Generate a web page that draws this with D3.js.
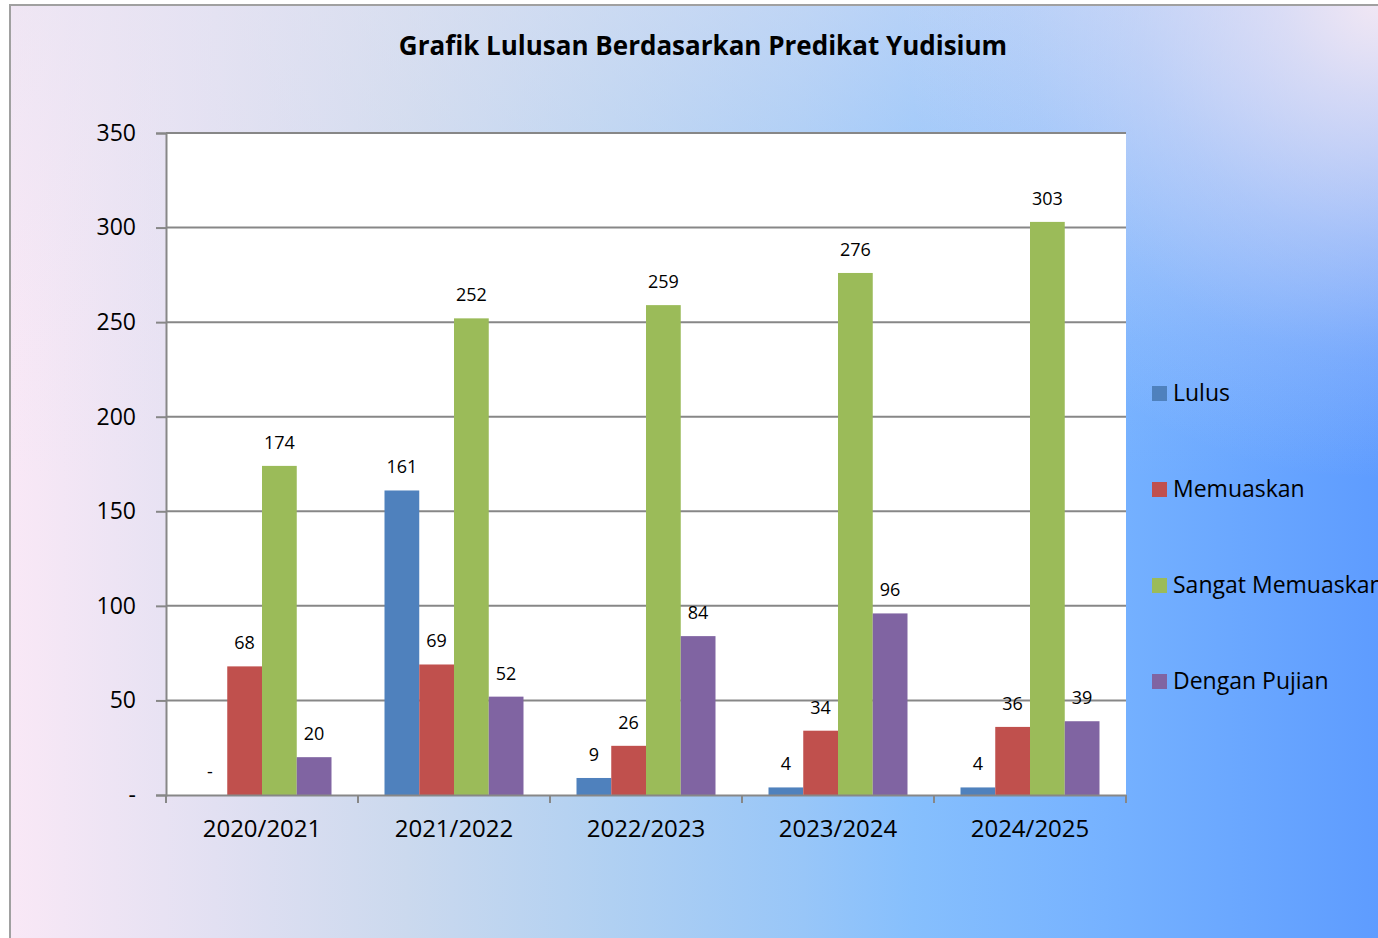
<!DOCTYPE html>
<html lang="id">

<head>
	<meta charset="utf-8">
	<title> Grafik Lulusan </title>
	<script src="https://d3js.org/d3.v7.min.js"></script>
	<style type="text/css">
		body{
			margin: 0;
			overflow: hidden;
		}
		text{
			font-family: "Open Sans", sans-serif;
			fill: #000;
		}
		.axis text{
			font-size: 23px;
		}
	</style>
</head>

<body>
	<script type="text/javascript">

	// data
	var years = ["2020/2021", "2021/2022", "2022/2023", "2023/2024", "2024/2025"]
	var seriesNames = ["Lulus", "Memuaskan", "Sangat Memuaskan", "Dengan Pujian"]
	var lulus = [0, 161, 9, 4, 4]
	var memuaskan = [68, 69, 26, 34, 36]
	var sangatMemuaskan = [174, 252, 259, 276, 303]
	var denganPujian = [20, 52, 84, 96, 39]
	var yTicks = [0, 50, 100, 150, 200, 250, 300, 350]
	var colors = ["#4f81bd", "#c0504d", "#9bbb59", "#8064a2"]

	var seriesValues = [lulus, memuaskan, sangatMemuaskan, denganPujian]

	// window size
	var w = 1378
	var h = 938
	var plot = {left: 166, right: 1126, top: 133, bottom: 795}

	var svg = d3.select("body")
				.append("svg")
				.attr("width", w)
				.attr("height", h)

	// background: horizontal pink -> blue, lighter toward the top, pink glow top-right
	var defs = svg.append("defs")
	var base = defs.append("linearGradient")
		.attr("id", "bg")
		.attr("gradientUnits", "userSpaceOnUse")
		.attr("x1", 10).attr("y1", 0).attr("x2", 1378).attr("y2", 0)
	var baseStops = [[0, "#f9e8f6"], [0.15, "#e2e0f2"], [0.29, "#cbd9ee"], [0.44, "#b0d0f2"],
		[0.58, "#98c6f8"], [0.66, "#86bffd"], [0.8, "#76b2ff"], [1, "#5e9cff"]]
	baseStops.forEach(function(s){
		base.append("stop").attr("offset", s[0]).attr("stop-color", s[1])
	})

	var topFade = defs.append("linearGradient")
		.attr("id", "topfade")
		.attr("gradientUnits", "userSpaceOnUse")
		.attr("x1", 0).attr("y1", 5).attr("x2", 0).attr("y2", 480)
	var topStops = [[0, 0.5], [0.35, 0.28], [0.7, 0.08], [1, 0]]
	topStops.forEach(function(s){
		topFade.append("stop").attr("offset", s[0])
			.attr("stop-color", "#e6e4f2").attr("stop-opacity", s[1])
	})

	var glow = defs.append("radialGradient")
		.attr("id", "glow")
		.attr("gradientUnits", "userSpaceOnUse")
		.attr("cx", 1378).attr("cy", 0).attr("r", 480)
	var glowStops = [[0, 1], [0.2, 0.7], [0.5, 0.35], [0.75, 0.12], [1, 0]]
	glowStops.forEach(function(s){
		glow.append("stop").attr("offset", s[0])
			.attr("stop-color", "#f1e7f4").attr("stop-opacity", s[1])
	})

	svg.append("rect")
		.attr("x", 0).attr("y", 0)
		.attr("width", w).attr("height", h)
		.attr("fill", "#fff")

	;["bg", "topfade", "glow"].forEach(function(id){
		svg.append("rect")
			.attr("x", 10).attr("y", 5)
			.attr("width", w).attr("height", h)
			.attr("fill", "url(#" + id + ")")
	})
	svg.append("rect")
		.attr("x", 10).attr("y", 5)
		.attr("width", w).attr("height", h)
		.attr("fill", "none")
		.attr("stroke", "#a0a0a0")
		.attr("stroke-width", 2)

	// plot area
	svg.append("rect")
		.attr("x", plot.left).attr("y", plot.top)
		.attr("width", plot.right - plot.left)
		.attr("height", plot.bottom - plot.top)
		.attr("fill", "#fff")

	// scales
	var xScale = d3.scaleBand().domain(years).range([plot.left, plot.right])
	var xInner = d3.scaleBand().domain(seriesNames)
		.range([26.5, xScale.bandwidth() - 26.5])
	var yScale = d3.scaleLinear().domain([0, 350]).range([plot.bottom, plot.top])

	// gridlines
	svg.append("g")
		.selectAll("line")
		.data(yTicks.slice(1))
		.enter()
		.append("line")
		.attr("x1", plot.left).attr("x2", plot.right)
		.attr("y1", d => yScale(d)).attr("y2", d => yScale(d))
		.attr("stroke", "#878787")
		.attr("stroke-width", 2)

	// y axis
	var yAxis = d3.axisLeft(yScale)
		.tickValues(yTicks)
		.tickSize(10)
		.tickPadding(20)
		.tickFormat(d => d === 0 ? "-" : d)
	var yG = svg.append("g")
		.attr("class", "axis")
		.attr("transform", "translate(" + plot.left + ",0)")
		.call(yAxis)
	yG.select(".domain").attr("stroke", "#878787").attr("stroke-width", 2)
	yG.selectAll(".tick line").attr("stroke", "#878787").attr("stroke-width", 2)

	// bars
	var groups = svg.append("g")
		.selectAll("g")
		.data(years)
		.enter()
		.append("g")
		.attr("transform", d => "translate(" + xScale(d) + ",0)")

	groups.selectAll("rect")
		.data((d, i) => seriesNames.map((s, j) => ({s: s, j: j, v: seriesValues[j][i]})))
		.enter()
		.append("rect")
		.attr("x", d => xInner(d.s))
		.attr("width", xInner.bandwidth())
		.attr("y", d => yScale(d.v))
		.attr("height", d => plot.bottom - yScale(d.v))
		.attr("fill", d => colors[d.j])

	// value labels
	groups.selectAll("text")
		.data((d, i) => seriesNames.map((s, j) => ({s: s, j: j, v: seriesValues[j][i]})))
		.enter()
		.append("text")
		.attr("x", d => xInner(d.s) + xInner.bandwidth() / 2)
		.attr("y", d => yScale(d.v) - 17)
		.attr("text-anchor", "middle")
		.style("font-size", "18px")
		.text(d => d.v === 0 ? "-" : d.v)

	// x axis
	var xAxis = d3.axisBottom(xScale).tickSize(0).tickPadding(25)
	var xG = svg.append("g")
		.attr("class", "axis")
		.attr("transform", "translate(0," + plot.bottom + ")")
		.call(xAxis)
	xG.selectAll(".tick text").style("font-size", "24px")
	xG.select(".domain").attr("stroke", "#878787").attr("stroke-width", 2)
	xG.selectAll(".bound")
		.data(d3.range(years.length + 1))
		.enter()
		.append("line")
		.attr("x1", i => plot.left + i * xScale.step())
		.attr("x2", i => plot.left + i * xScale.step())
		.attr("y1", 0).attr("y2", 8)
		.attr("stroke", "#878787")
		.attr("stroke-width", 2)

	// title
	svg.append("text")
		.attr("x", 703)
		.attr("y", 55)
		.attr("text-anchor", "middle")
		.style("font-size", "26px")
		.style("font-weight", "bold")
		.text("Grafik Lulusan Berdasarkan Predikat Yudisium")

	// legend
	var legend = svg.append("g")
		.selectAll("g")
		.data(seriesNames)
		.enter()
		.append("g")
		.attr("transform", (d, i) => "translate(1152," + (393 + i * 96) + ")")
	legend.append("rect")
		.attr("x", 0).attr("y", -7)
		.attr("width", 15).attr("height", 15)
		.attr("fill", (d, i) => colors[i])
	legend.append("text")
		.attr("x", 21)
		.attr("y", 8)
		.style("font-size", "23px")
		.text(d => d)

	</script>
</body>
</html>
